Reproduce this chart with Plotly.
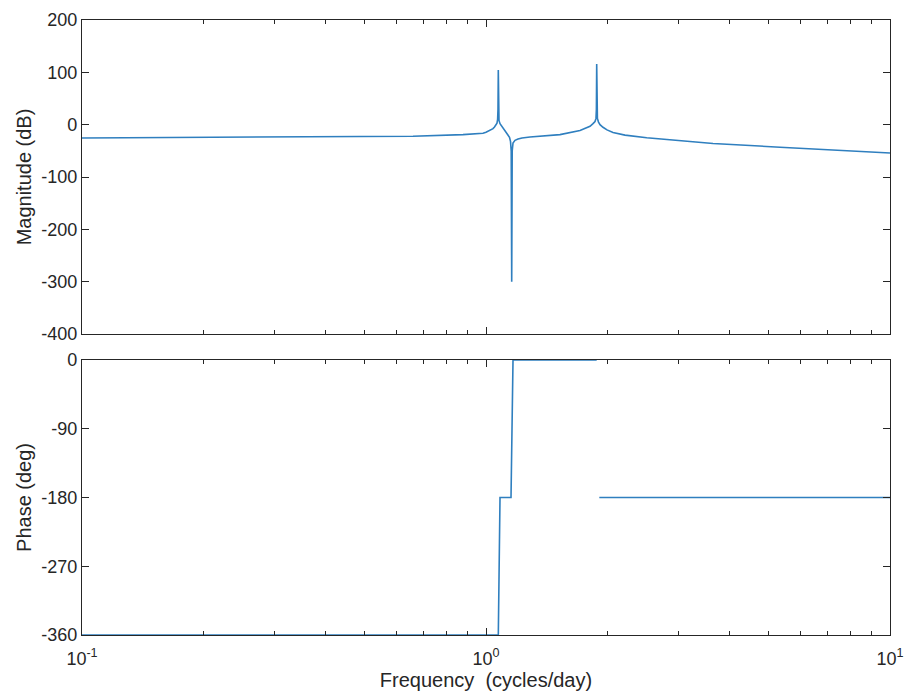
import plotly.graph_objects as go
from plotly.subplots import make_subplots

# Magnitude response
mag_freq = [0.1, 0.2111, 0.4529, 0.6597, 0.877, 0.9830, 1.0, 1.01725, 1.0289, 1.0407,
            1.0496, 1.0587, 1.0647, 1.0684, 1.0708, 1.0726, 1.0745, 1.0769, 1.0831,
            1.0955, 1.1080, 1.1207, 1.1336, 1.1433, 1.1499, 1.1545, 1.1578, 1.1611,
            1.1664, 1.1797, 1.2001, 1.2278, 1.2850, 1.3604, 1.5246, 1.7088, 1.7682,
            1.8090, 1.8402, 1.8613, 1.8719, 1.8762, 1.8794, 1.8826, 1.8869, 1.8988,
            1.9151, 1.9481, 1.9930, 2.0623, 2.2084, 2.4992, 3.6475, 5.343, 7.812, 10.0]
mag_db = [-25.5, -24.5, -23.5, -22, -19, -16.5, -14.5, -12, -10, -7.5,
          -4.5, -1, 3, 10, 30, 104.5, 30, 8, 2,
          -3, -8, -13, -19, -24, -32, -50, -300, -50,
          -35, -30, -27.5, -25.5, -23.5, -22, -19, -11, -6,
          -3, 2, 6, 12, 30, 116, 30, 12, 5,
          0, -5, -10, -15, -20, -25, -36, -43, -50, -54]

# Phase response
phase_freq = [0.1, 1.0726, 1.0831, 1.1533, 1.1664, 1.8794, None, 1.9075, 10.0]
phase_deg = [-360, -360, -180, -180, 0, 0, None, -180, -180]

mag_ticks = [200, 100, 0, -100, -200, -300, -400]
mag_ticktext = ["200", "100", "0", "-100", "-200", "-300", "-400"]
phase_ticks = [0, -90, -180, -270, -360]
phase_ticktext = ["0", "-90", "-180", "-270", "-360"]
x_ticks = [0.1, 1, 10]
x_ticktext = ["10<sup>-1</sup>", "10<sup>0</sup>", "10<sup>1</sup>"]
minor_vals = [0.2, 0.3, 0.4, 0.5, 0.6, 0.7, 0.8, 0.9, 2, 3, 4, 5, 6, 7, 8, 9]

LINE = "#2f7fbf"
TXT = "#262626"
FONT = "Liberation Sans, Arial, sans-serif"

fig = make_subplots(rows=2, cols=1, shared_xaxes=False, vertical_spacing=0.0)
fig.add_trace(go.Scatter(x=mag_freq, y=mag_db, mode="lines",
                         line=dict(color=LINE, width=1.6), showlegend=False), row=1, col=1)
fig.add_trace(go.Scatter(x=phase_freq, y=phase_deg, mode="lines", connectgaps=False,
                         line=dict(color=LINE, width=1.6), showlegend=False), row=2, col=1)

axis_common = dict(showline=True, linecolor=TXT, linewidth=1.2, mirror="ticks",
                   ticks="inside", ticklen=7, tickcolor=TXT, showgrid=False,
                   zeroline=False, automargin=False, ticklabeloverflow="allow",
                   tickfont=dict(family=FONT, size=18, color=TXT))

fig.update_xaxes(type="log", range=[-1, 1], tickvals=x_ticks, ticktext=x_ticktext,
                 minor=dict(tickvals=minor_vals, ticks="inside", ticklen=4, tickcolor=TXT),
                 **axis_common)
fig.update_xaxes(showticklabels=False, row=1, col=1)
fig.update_xaxes(ticklabelstandoff=7,
                 title=dict(text="Frequency  (cycles/day)", standoff=0,
                            font=dict(family=FONT, size=20, color=TXT)), row=2, col=1)

fig.update_yaxes(**axis_common)
fig.update_yaxes(range=[-400, 200], tickvals=mag_ticks, ticktext=mag_ticktext,
                 title=dict(text="Magnitude (dB)", standoff=4,
                            font=dict(family=FONT, size=20, color=TXT)), row=1, col=1)
fig.update_yaxes(range=[-360, 0], tickvals=phase_ticks, ticktext=phase_ticktext,
                 title=dict(text="Phase (deg)", standoff=4,
                            font=dict(family=FONT, size=20, color=TXT)), row=2, col=1)

fig.update_layout(width=907, height=700, plot_bgcolor="white", paper_bgcolor="white",
                  margin=dict(l=82, r=17, t=20, b=65),
                  yaxis=dict(domain=[0.4894, 1.0]), yaxis2=dict(domain=[0.0, 0.4472]))

fig.write_html("out.html",
               config={"displayModeBar": False},
               post_script="document.body.style.margin='0';"
                           "document.documentElement.style.overflow='hidden';")
